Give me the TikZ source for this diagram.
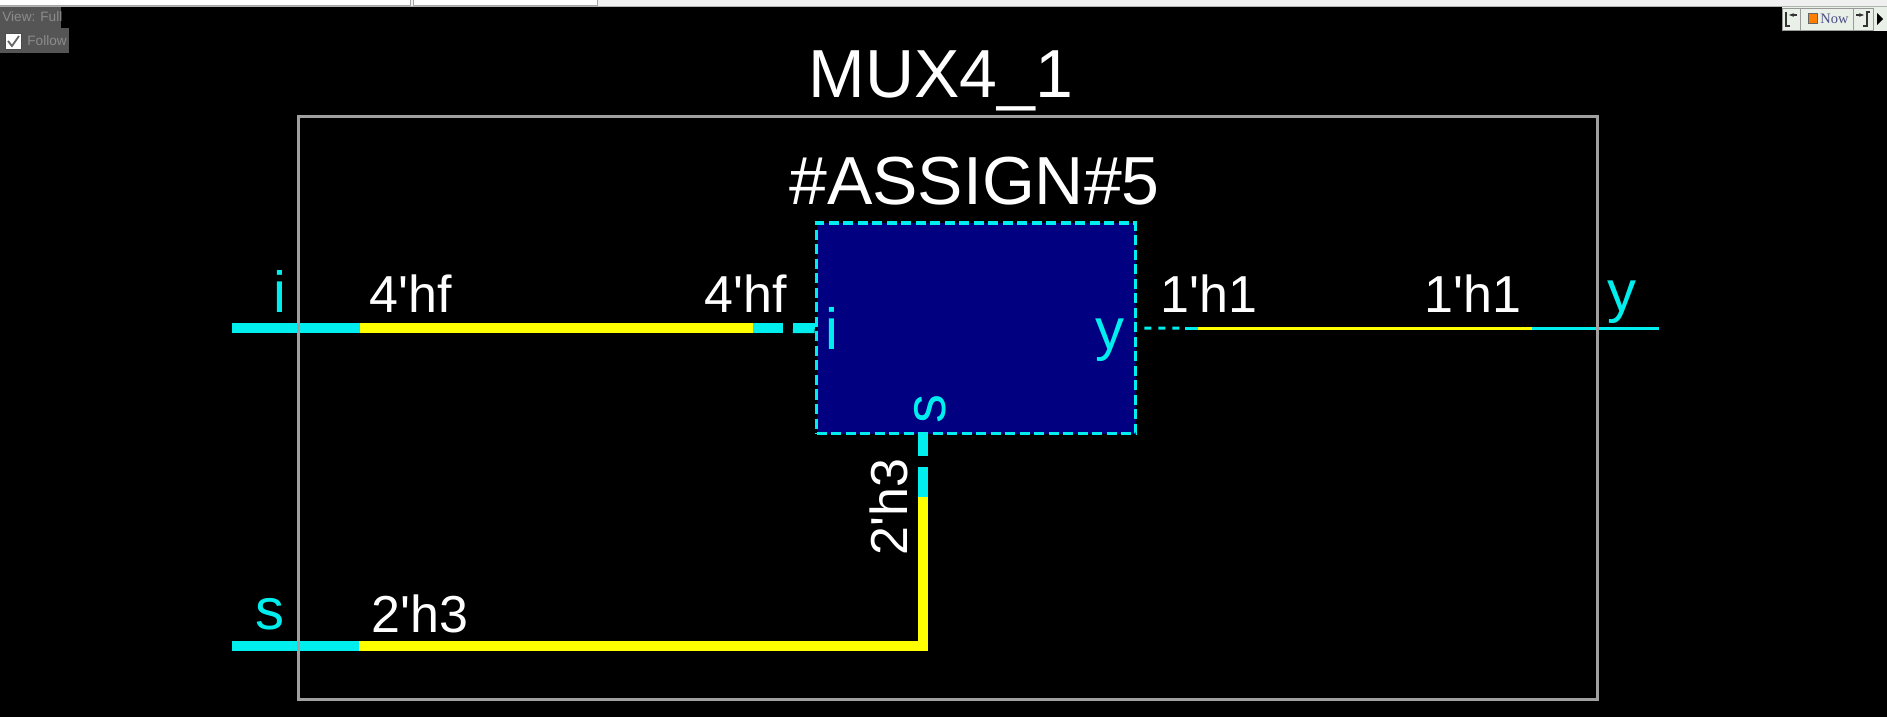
\documentclass[tikz,border=0pt]{standalone}
\usepackage{fontspec}
\setmainfont{Liberation Sans}
\newfontfamily\nowfont{Liberation Serif}
\usetikzlibrary{positioning,arrows.meta,calc}

\definecolor{netcyan}{RGB}{0,238,238}
\definecolor{netyellow}{RGB}{255,255,0}
\definecolor{blocknavy}{RGB}{0,0,128}
\definecolor{framegray}{RGB}{160,160,160}
\definecolor{panelgray}{RGB}{85,85,85}
\definecolor{paneltext}{RGB}{140,140,140}
\definecolor{barface}{RGB}{232,240,232}

\newcommand{\tick}{\textquotesingle}

\tikzset{
  bus/.style={line width=5pt},
  wire/.style={line width=1.5pt},
  blockbox/.style={draw=netcyan,fill=blocknavy,line width=1.75pt,dash pattern=on 5pt off 2.25pt,
    minimum width=159.5pt,minimum height=105.25pt,inner sep=0pt},
  frame/.style={draw=framegray,line width=1.5pt,minimum width=649.5pt,minimum height=291pt,inner sep=0pt},
  blocktitle/.style={text=white,inner sep=0pt,font=\fontsize{34pt}{40pt}\selectfont},
  netvalue/.style={text=white,inner sep=0pt,font=\fontsize{26pt}{30pt}\selectfont},
  pinname/.style={text=netcyan,inner sep=0pt,font=\fontsize{29pt}{34pt}\selectfont},
  uitext/.style={text=paneltext,inner sep=0pt,font=\fontsize{6.8pt}{8pt}\selectfont}
}

\begin{document}
\begin{tikzpicture}[x=0.5pt,y=-0.5pt]
  \useasboundingbox (0,0) rectangle (1887,717);
  \fill[black] (0,0) rectangle (1887,717);

  % viewer chrome
  \fill[black!6] (0,0) rectangle (1887,6);
  \draw[white,fill=white] (0,-1) rectangle (410,5);
  \draw[white,fill=white] (413,-1) rectangle (597,5);
  \draw[black!35] (0,5) -- (410,5) -- (410,-1);
  \draw[black!35] (413,-1) -- (413,5) -- (597,5) -- (597,-1);
  \draw[black!30,line width=0.75pt] (0,6.5) -- (1887,6.5);
  \fill[panelgray] (0,7) rectangle (61,28);
  \node[uitext,anchor=base west] (viewmode) at (2,22) {View: Full};
  \fill[panelgray] (0,28) rectangle (69,53);
  \draw[black!70,fill=white] (5,33) rectangle (21,49);
  \draw[black!60,line width=0.9pt] (8,41) -- (12,46) -- (19,36);
  \node[uitext,anchor=base west] (follow) at (27,46) {Follow};

  \fill[barface] (1782,7) rectangle (1887,31);
  \draw[black!40] (1782,8) rectangle (1800,30);
  \draw[black!40] (1800,8) rectangle (1853,30);
  \draw[black!40] (1853,8) rectangle (1873,30);
  \draw[black!80,line width=0.6pt] (1786,12) -- (1786,26) -- (1790,26);
  \draw[black!80,line width=0.6pt,-{Stealth[length=2.5pt]}] (1797,15) -- (1789,15);
  \draw[black!60,fill=orange] (1808,13) rectangle (1817,23);
  \node[text=black!45!blue!40!gray,inner sep=0pt,anchor=base west,font=\nowfont\fontsize{7.2pt}{8pt}\selectfont]
    (nowbtn) at (1820,24) {Now};
  \draw[black!80,line width=0.6pt,-{Stealth[length=2.5pt]}] (1856,15) -- (1864,15);
  \draw[black!80,line width=0.6pt] (1863,26) -- (1867,26) -- (1867,12) -- (1870,12);
  \fill[black] (1877,13) -- (1883,19) -- (1877,25) -- cycle;

  % the assign block
  \node[blockbox] (assign) at (976,328.25) {};
  \node[blocktitle,anchor=base] (assignname) at (974.5,205) {\#ASSIGN\#5};
  \node[pinname,anchor=base west] (pini) at (825,350) {i};
  \node[pinname,anchor=base west] (piny) at (1095,350) {y};
  \node[pinname,anchor=base west,rotate=90] (pins) at (945,424) {s};

  % net i
  \coordinate (iport) at (232,328);
  \coordinate (ibound) at (360,328);
  \coordinate (iend) at (753,328);
  \coordinate (igap) at (783,328);
  \coordinate (ipin) at (793,328);
  \draw[bus,netcyan] (iport) -- (ibound);
  \draw[bus,netyellow] (ibound) -- (iend);
  \draw[bus,netcyan] (iend) -- (igap);
  \draw[bus,netcyan] (ipin) -- (assign.west);
  \node[pinname,anchor=base west] (porti) at (273,312) {i};
  \node[netvalue,anchor=base west] (vali) at (369,313) {4\tick hf};
  \node[netvalue,anchor=base west] (valipin) at (704,313) {4\tick hf};

  % net y
  \coordinate (ydash) at (1185,328);
  \coordinate (ybound) at (1198,328);
  \coordinate (yend) at (1532,328);
  \coordinate (yport) at (1659,328);
  \draw[wire,netcyan,dash pattern=on 3.5pt off 3.5pt,dash phase=3.5pt] (assign.east) -- (ydash);
  \draw[wire,netcyan] (ydash) -- (ybound);
  \draw[wire,netyellow] (ybound) -- (yend);
  \draw[wire,netcyan] (yend) -- (yport);
  \node[netvalue,anchor=base west] (valypin) at (1160,313) {1\tick h1};
  \node[netvalue,anchor=base west] (valy) at (1424,313) {1\tick h1};
  \node[pinname,anchor=base west] (porty) at (1607,311) {y};

  % net s
  \coordinate (sport) at (232,646);
  \coordinate (sbound) at (359,646);
  \coordinate (scorner) at (922.5,646);
  \coordinate (srise) at (922.5,497);
  \coordinate (sgap) at (922.5,467);
  \coordinate (sgapend) at (922.5,456);
  \coordinate (spin) at (assign.south -| scorner);
  \draw[bus,netcyan] (sport) -- (sbound);
  \draw[bus,netyellow,line join=miter] (sbound) -- (scorner) -- (srise);
  \draw[bus,netcyan] (srise) -- (sgap);
  \draw[bus,netcyan] (sgapend) -- (spin);
  \node[pinname,anchor=base west] (ports) at (255,629) {s};
  \node[netvalue,anchor=base west] (vals) at (371,632) {2\tick h3};
  \node[netvalue,anchor=base west,rotate=90] (valspin) at (907,556) {2\tick h3};

  % module frame
  \node[frame] (mux) at (947.5,408) {};
  \node[blocktitle,anchor=base] (muxname) at (941,98) {MUX4\_1};
\end{tikzpicture}
\end{document}
